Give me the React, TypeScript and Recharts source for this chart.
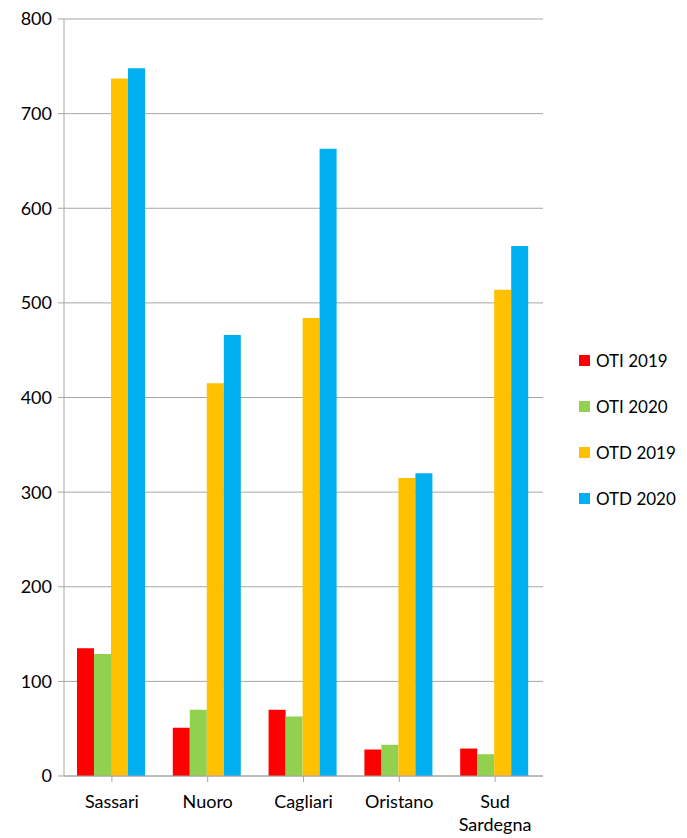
import React from "react";
import { BarChart, Bar, XAxis, YAxis, CartesianGrid } from "recharts";

const categories = ["Sassari", "Nuoro", "Cagliari", "Oristano", "Sud Sardegna"];
const oti2019 = [135, 51, 70, 28, 29];
const oti2020 = [129, 70, 63, 33, 23];
const otd2019 = [737, 415, 484, 315, 514];
const otd2020 = [748, 466, 663, 320, 560];
const yTicks = [0, 100, 200, 300, 400, 500, 600, 700, 800];

const series = [
  { key: "oti2019", name: "OTI 2019", color: "#FF0000" },
  { key: "oti2020", name: "OTI 2020", color: "#92D050" },
  { key: "otd2019", name: "OTD 2019", color: "#FFC000" },
  { key: "otd2020", name: "OTD 2020", color: "#00B0F0" },
];

const data = categories.map((c, i) => ({
  name: c,
  oti2019: oti2019[i],
  oti2020: oti2020[i],
  otd2019: otd2019[i],
  otd2020: otd2020[i],
}));

const FONT = "Lato, 'Open Sans', sans-serif";
const FS = 18;

const XTick = (props: any) => {
  const { x, y, payload } = props;
  const words: string[] = payload.value.length > 10 ? payload.value.split(" ") : [payload.value];
  return (
    <text x={x} y={y + 24} textAnchor="middle" fill="#000" fontSize={FS} fontFamily={FONT}>
      {words.map((w, i) => (
        <tspan key={i} x={x} dy={i === 0 ? 0 : 23}>
          {w}
        </tspan>
      ))}
    </text>
  );
};

export default function App() {
  return (
    <div style={{ position: "relative", width: 671, height: 830 }}>
      <BarChart
        width={671}
        height={830}
        data={data}
        margin={{ top: 11, right: 136, bottom: 12, left: 0 }}
        barCategoryGap={13}
        barGap={0}
      >
        <CartesianGrid vertical={false} stroke="#a6a6a6" strokeWidth={1} />
        <XAxis
          dataKey="name"
          height={50}
          stroke="#a6a6a6"
          tickLine={{ stroke: "#a6a6a6" }}
          tickSize={6}
          tick={<XTick />}
          interval={0}
        />
        <YAxis
          width={56}
          domain={[0, 800]}
          ticks={yTicks}
          stroke="#a6a6a6"
          tickSize={6}
          tick={{ fill: "#000", fontSize: FS, fontFamily: FONT }}
          tickMargin={6}
        />
        {series.map((s) => (
          <Bar key={s.key} dataKey={s.key} name={s.name} fill={s.color} isAnimationActive={false} />
        ))}
      </BarChart>
      <div
        style={{
          position: "absolute",
          left: 571,
          top: 329,
          fontFamily: FONT,
          fontSize: 17,
          color: "#000",
          whiteSpace: "nowrap",
        }}
      >
        {series.map((s) => (
          <div key={s.key} style={{ display: "flex", alignItems: "center", height: 46 }}>
            <div style={{ width: 11, height: 11, background: s.color, marginRight: 6, flexShrink: 0 }} />
            <span>{s.name}</span>
          </div>
        ))}
      </div>
    </div>
  );
}
